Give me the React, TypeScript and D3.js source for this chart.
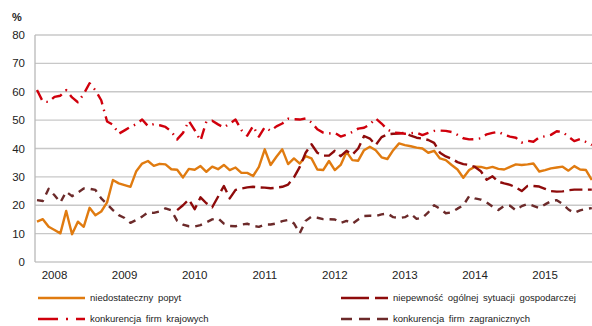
import React from "react";
import * as d3 from "d3";

const years = ["2008", "2009", "2010", "2011", "2012", "2013", "2014", "2015"];
const yTicks = [0, 10, 20, 30, 40, 50, 60, 70, 80];

// niedostateczny popyt
const demand: number[] = [
  14.2, 15.1, 12.4, 11.3, 10.1, 18, 9.8, 14.2, 12.4, 19.1, 16.5, 17.8, 21, 28.9, 27.7, 27.1, 26.5, 32, 34.7, 35.6,
  33.9, 34.6, 34.4, 32.7, 32.5, 29.8, 32.8, 32.5, 33.8, 31.8, 33.6, 32.7, 34.2, 32.4, 33.3, 31.4, 31.4, 30.3, 33.5, 39.7,
  34.2, 37.1, 39.7, 34.5, 36.5, 34.7, 37.3, 36.5, 32.6, 32.4, 35.6, 32.4, 34.2, 38.8, 35.9, 35.7, 39.4, 40.6, 39.4, 36.9,
  36.3, 39.4, 41.8, 41.2, 40.8, 40.3, 40, 38.5, 39.2, 36.5, 35.9, 34.2, 32.6, 29.7, 32.4, 33.6, 33.5, 33, 33.5, 32.8,
  32.6, 33.5, 34.4, 34.2, 34.4, 34.7, 31.9, 32.4, 33, 33.3, 33.6, 32.2, 33.8, 32.6, 32.4, 28.9,
];

// niepewność ogólnej sytuacji gospodarczej
const uncertainty: (number | null)[] = [
  null, null, null, null, null, null, null, null, null, null, null, null, null, null, null, null, null, null, null, null,
  null, null, null, null, 18.3, 20, 22, 18.6, 22.8, 20.7, 19.3, 23, 26.8, 22.4, 25.4, 25.9, 26.3, 26.5, 26.3, 26.2,
  26, 26.2, 26.5, 27.3, 29.8, 33.5, 38.5, 41.5, 38.5, 37.5, 37.5, 39.2, 37.3, 39.2, 37.8, 40, 44.4, 43.5, 41.2, 44,
  45, 45.2, 45.3, 45.5, 44.5, 43.8, 43.5, 43, 42, 38.5, 37.2, 36.4, 35.2, 34.5, 34.2, 33.5, 32, 29, 30.2, 28.3,
  27.7, 27.2, 26.3, 25, 26.8, 26.8, 26.6, 25.8, 25, 24.8, 24.9, 25.3, 25.5, 25.5, 25.5, 25.5,
];

// konkurencja firm krajowych
const domestic: number[] = [
  60.6, 56.5, 56.4, 58.2, 58.6, 60.6, 58, 56.3, 59.2, 63, 60.5, 57, 49.5, 48.4, 45.2, 46.4, 47.6, 48.6, 50.2, 47.9,
  48.6, 48.2, 47.6, 46, 43.2, 45.5, 49.7, 46.5, 42.8, 49.5, 49.8, 48.5, 47.4, 48.8, 50.2, 46.5, 44.5, 47.9, 44.2, 47.5,
  46.2, 47.8, 48.8, 50.5, 50.3, 50.2, 50.6, 49.2, 46.8, 45.6, 45.3, 45.5, 44.2, 44.9, 45.8, 47, 47.3, 48.5, 50.6, 48.8,
  46.7, 45.6, 45.5, 45.2, 45.4, 45.6, 44.7, 45.5, 46.2, 46.3, 46.2, 45.8, 44.8, 43.6, 43.2, 43.3, 43.6, 45, 45.5, 45.9,
  44.8, 44.2, 43.8, 42.1, 42.7, 42.4, 43.9, 44.3, 44.8, 46.1, 45.8, 44.2, 42.6, 43.3, 42.3, 41.2,
];

// konkurencja firm zagranicznych
const foreign: number[] = [
  21.8, 21.5, 25.8, 23.5, 21, 24.8, 23.2, 24.5, 25.9, 25.8, 25.4, 22.4, 20.4, 18.3, 16.5, 15.5, 13.8, 14.8, 16, 17.5,
  17.3, 17.8, 18.9, 18.2, 14.5, 13.2, 12.6, 12.5, 13, 14, 15, 15.4, 13.5, 12.7, 12.6, 13.2, 13.5, 12.7, 12.4, 13.2,
  13.2, 13.6, 14.4, 14.8, 13.6, 10.2, 14.5, 16, 15.6, 15.1, 15.1, 15, 13.8, 14.5, 13.5, 15, 16.2, 16.3, 16.2, 16.8,
  17.1, 15.8, 15.5, 15.8, 17, 15.2, 15.6, 17.5, 20, 18.8, 17.2, 17.5, 18.8, 20, 23.2, 22.4, 22, 21, 19.5, 18.3,
  19.8, 19.8, 18.2, 19.7, 20.5, 19.8, 19, 20.3, 21.4, 21.8, 20.5, 18.5, 17.3, 18.2, 18.7, 19,
];

const seriesNames = [
  "niedostateczny popyt",
  "niepewność ogólnej sytuacji gospodarczej",
  "konkurencja firm krajowych",
  "konkurencja firm zagranicznych",
];

const W = 592;
const H = 326;
const FONT = "'Liberation Sans', Arial, sans-serif";

const C_ORANGE = "#E07B10";
const C_RED = "#D0000C";
const C_DARKRED = "#8E0B0B";
const C_BROWN = "#6C2A2A";

export default function App() {
  const x = d3.scaleLinear().domain([0, 95]).range([37, 591.8]);
  const y = d3.scaleLinear().domain([0, 80]).range([262, 35]);
  const line = d3
    .line<number | null>()
    .defined((d) => d !== null)
    .x((_, i) => x(i))
    .y((d) => y(d as number));

  const series = [
    { data: demand as (number | null)[], color: C_ORANGE, dash: "none" },
    { data: uncertainty, color: C_DARKRED, dash: "13,5.5" },
    { data: domestic as (number | null)[], color: C_RED, dash: "11,5.5,1.5,5.5" },
    { data: foreign as (number | null)[], color: C_BROWN, dash: "7,6" },
  ];

  const legendItems = [
    { name: seriesNames[0], color: C_ORANGE, dash: "none", x: 38, y: 298 },
    { name: seriesNames[1], color: C_DARKRED, dash: "28,6", x: 341, y: 298 },
    { name: seriesNames[2], color: C_RED, dash: "20,8,2,8", x: 38, y: 319 },
    { name: seriesNames[3], color: C_BROWN, dash: "11,7", x: 341, y: 319 },
  ];

  return (
    <svg
      width={W}
      height={H}
      style={{ position: "absolute", left: 0, top: 0, background: "#fff" }}
      fontFamily={FONT}
    >
      <rect width={W} height={H} fill="#fff" />
      {yTicks.map((t) => (
        <g key={t}>
          <line x1={35} x2={W} y1={y(t)} y2={y(t)} stroke="#C8C8C8" strokeWidth={1.3} />
          <text x={25} y={y(t)} dy="0.35em" textAnchor="end" fontSize={11.5} fill="#222">
            {t}
          </text>
        </g>
      ))}
      <line x1={35} x2={35} y1={y(80)} y2={y(0)} stroke="#B8B8B8" strokeWidth={1.3} />
      <text x={12} y={21} fontSize={11} fontWeight="bold" fill="#222">
        %
      </text>
      {years.map((yr, i) => (
        <text key={yr} x={x(3 + 12 * i)} y={279} textAnchor="middle" fontSize={11.5} fill="#222">
          {yr}
        </text>
      ))}
      {series.map((s, i) => (
        <path
          key={i}
          d={line(s.data) || ""}
          fill="none"
          stroke={s.color}
          strokeWidth={2.4}
          strokeDasharray={s.dash}
          strokeLinejoin="round"
        />
      ))}
      {legendItems.map((l, i) => (
        <g key={i}>
          <line
            x1={l.x}
            x2={l.x + 47}
            y1={l.y}
            y2={l.y}
            stroke={l.color}
            strokeWidth={2.6}
            strokeDasharray={l.dash}
          />
          <text x={l.x + 52} y={l.y} dy="0.35em" fontSize={9.5} fill="#222" wordSpacing={2}>
            {l.name}
          </text>
        </g>
      ))}
    </svg>
  );
}
